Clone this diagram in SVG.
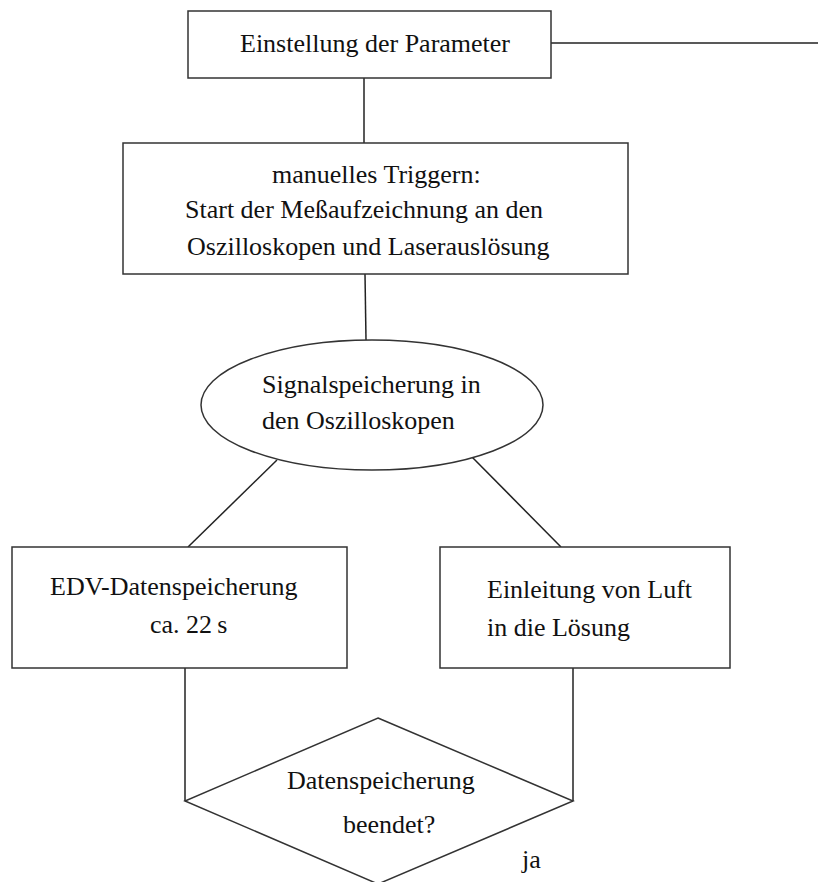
<svg xmlns="http://www.w3.org/2000/svg" width="818" height="882" viewBox="0 0 818 882">
<style>
.s{fill:none;stroke:#222;stroke-width:1.5}
.n{fill:#fff;stroke:#333;stroke-width:1.5}
text{font-family:"Liberation Serif","Times New Roman",serif;font-size:26px;fill:#111}
</style>
<rect width="818" height="882" fill="#fff"/>
<g id="connectors" class="s">
<line x1="551" y1="43" x2="818" y2="43"/>
<line x1="364" y1="78" x2="364" y2="143"/>
<line x1="365" y1="274" x2="366" y2="340"/>
<line x1="277" y1="460" x2="188" y2="547"/>
<line x1="472" y1="457" x2="561" y2="547"/>
<line x1="185" y1="668" x2="185" y2="801"/>
<line x1="573" y1="668" x2="573" y2="801"/>
</g>
<g id="n1">
<rect class="n" x="188" y="11" width="363" height="67"/>
<text x="240" y="52">Einstellung der Parameter</text>
</g>
<g id="n2">
<rect class="n" x="123" y="143" width="505" height="131"/>
<text x="272" y="183">manuelles Triggern:</text>
<text x="185" y="218">Start der Meßaufzeichnung an den</text>
<text x="187" y="255">Oszilloskopen und Laserauslösung</text>
</g>
<g id="n3">
<ellipse class="n" cx="372" cy="405" rx="171" ry="65"/>
<text x="262" y="393">Signalspeicherung in</text>
<text x="262" y="429">den Oszilloskopen</text>
</g>
<g id="n4">
<rect class="n" x="12" y="547" width="335" height="121"/>
<text x="50" y="595">EDV-Datenspeicherung</text>
<text x="150" y="633">ca. 22&#8201;s</text>
</g>
<g id="n5">
<rect class="n" x="440" y="547" width="290" height="121"/>
<text x="487" y="598">Einleitung von Luft</text>
<text x="487" y="636">in die Lösung</text>
</g>
<g id="n6">
<polygon class="n" points="378,718 573,801 378,884 185,801"/>
<text x="287" y="789">Datenspeicherung</text>
<text x="343" y="833">beendet?</text>
</g>
<g id="label-ja">
<text x="522" y="868">ja</text>
</g>
</svg>
